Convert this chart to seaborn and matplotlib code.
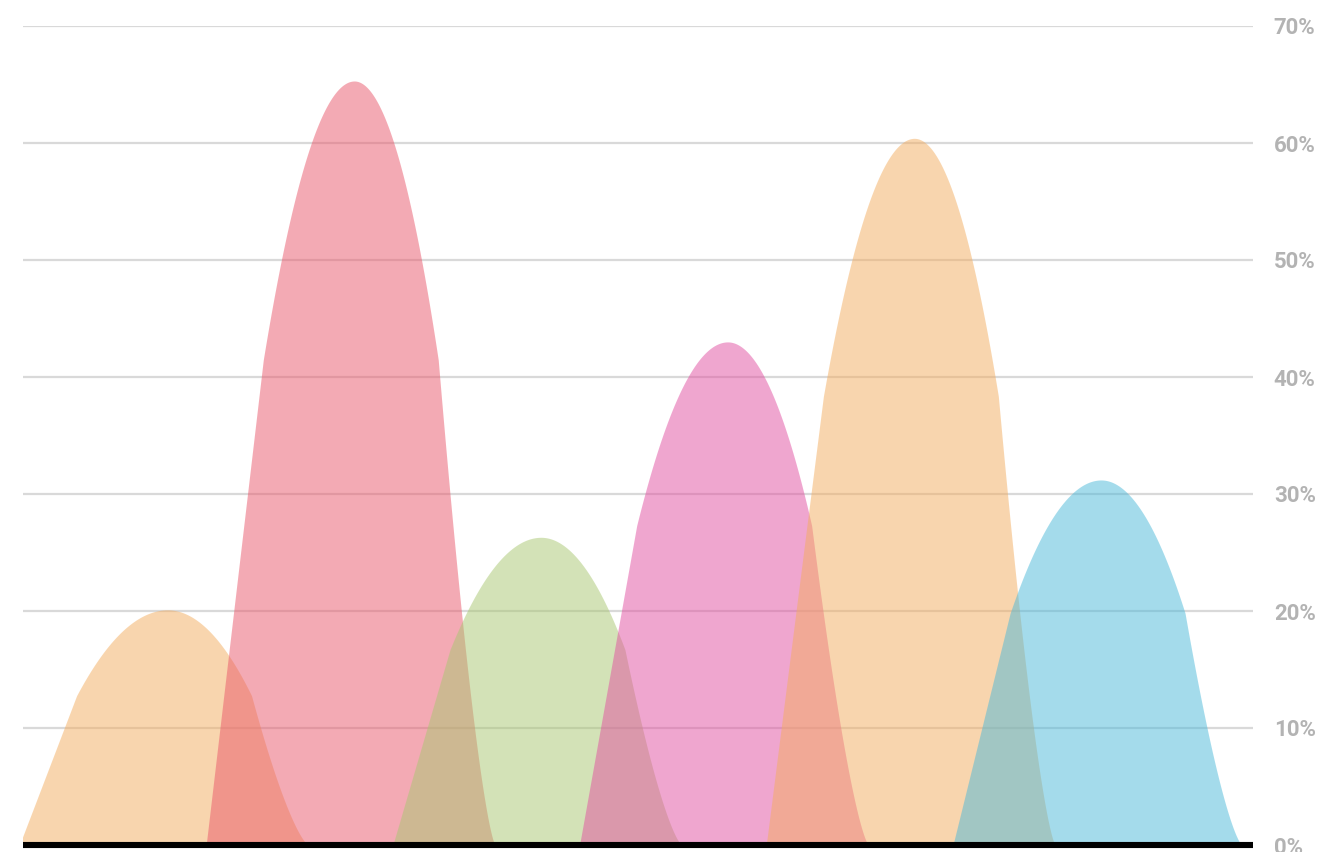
import numpy as np
import pandas as pd
import matplotlib
matplotlib.use("Agg")
import matplotlib.pyplot as plt
import seaborn as sns

# ---- data ----
categories = ["A", "B", "C", "D", "E", "F"]
values = [20.1, 65.3, 26.3, 43.0, 60.4, 31.2]
tick_values = [0, 10, 20, 30, 40, 50, 60, 70]
tick_labels = [f"{t}%" for t in tick_values]
colors = ["#F3AD5F", "#E9576A", "#A9C771", "#E14FA1", "#F3AD5F", "#4BB9D9"]

sns.set_theme(style="white")
plt.rcParams["font.family"] = ["Roboto", "DejaVu Sans"]

fig = plt.figure(figsize=(13.21, 8.52), dpi=100)
ax = fig.add_axes([23 / 1321, 7 / 852, 1230 / 1321, 819 / 852])

# shape style (offsets relative to the category position, in category units)
OFF_START, OFF_L, OFF_R, OFF_END = -0.793, -0.487, 0.450, 0.755
K = 0.635  # shoulder level as fraction of peak
TAIL_P = 1.4


def mountain(c, v, n=200):
    xs0, xl, xr, xe = c + OFF_START, c + OFF_L, c + OFF_R, c + OFF_END
    kv = K * v
    x1 = np.linspace(xs0, xl, n)
    y1 = kv * (x1 - xs0) / (xl - xs0)
    x2 = np.linspace(xl, c, n)
    y2 = v - (v - kv) * ((x2 - c) / (xl - c)) ** 2
    x3 = np.linspace(c, xr, n)
    y3 = v - (v - kv) * ((x3 - c) / (xr - c)) ** 2
    x4 = np.linspace(xr, xe, n)
    t = (x4 - xr) / (xe - xr)
    y4 = kv * (1 - t) ** TAIL_P
    return np.concatenate([x1, x2, x3, x4]), np.concatenate([y1, y2, y3, y4])


df = pd.DataFrame({"category": categories, "value": values, "pos": np.arange(len(categories))})

for i, row in df.iterrows():
    xs, ys = mountain(row["pos"], row["value"])
    ax.fill_between(xs, 0, ys, color=colors[i], alpha=0.5, linewidth=0, zorder=2)

ax.set_xlim(-0.774, 5.814)
ax.set_ylim(0, 70)

# grid
for t in tick_values[1:]:
    ax.axhline(t, color="#d9d9d9", linewidth=1.6, zorder=1)
ax.axhline(0, color="black", linewidth=4.4, zorder=5, solid_capstyle="butt", clip_on=False)

ax.yaxis.tick_right()
ax.set_yticks(tick_values)
ax.set_yticklabels(tick_labels)
ax.tick_params(axis="y", length=0, pad=15, labelsize=16, labelcolor="#b3b3b3")
for lab in ax.get_yticklabels():
    lab.set_fontweight("bold")
ax.set_xticks([])
for s in ax.spines.values():
    s.set_visible(False)
ax.grid(False)
ax.patch.set_alpha(0)

fig.savefig("out.png", dpi=100)
